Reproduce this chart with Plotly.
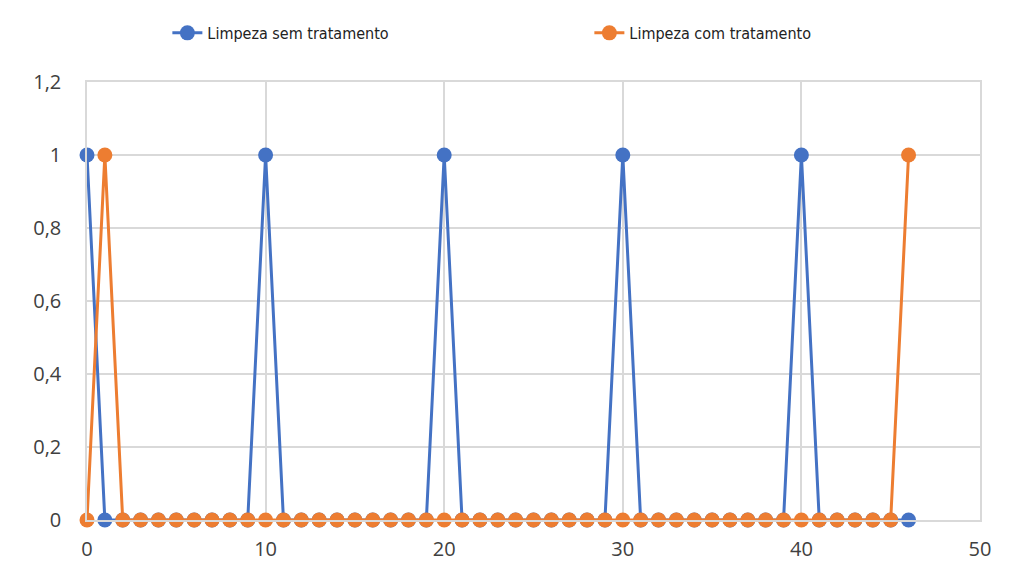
import plotly.graph_objects as go

x_vals = list(range(0, 47))
sem_tratamento = [1, 0, 0, 0, 0, 0, 0, 0, 0, 0,
                  1, 0, 0, 0, 0, 0, 0, 0, 0, 0,
                  1, 0, 0, 0, 0, 0, 0, 0, 0, 0,
                  1, 0, 0, 0, 0, 0, 0, 0, 0, 0,
                  1, 0, 0, 0, 0, 0, 0]
com_tratamento = [0, 1, 0, 0, 0, 0, 0, 0, 0, 0,
                  0, 0, 0, 0, 0, 0, 0, 0, 0, 0,
                  0, 0, 0, 0, 0, 0, 0, 0, 0, 0,
                  0, 0, 0, 0, 0, 0, 0, 0, 0, 0,
                  0, 0, 0, 0, 0, 0, 1]

x_ticks = [0, 10, 20, 30, 40, 50]
y_ticks = [0, 0.2, 0.4, 0.6, 0.8, 1, 1.2]
y_tick_text = ["0", "0,2", "0,4", "0,6", "0,8", "1", "1,2"]

fig = go.Figure()
fig.add_trace(go.Scatter(x=x_vals, y=sem_tratamento, mode="lines+markers",
                         name="Limpeza sem tratamento", cliponaxis=False,
                         line=dict(color="#4472C4", width=3),
                         marker=dict(size=15, color="#4472C4")))
fig.add_trace(go.Scatter(x=x_vals, y=com_tratamento, mode="lines+markers",
                         name="Limpeza com tratamento", cliponaxis=False,
                         line=dict(color="#ED7D31", width=3),
                         marker=dict(size=15, color="#ED7D31")))

fig.update_layout(
    width=1016, height=580,
    margin=dict(l=79, r=44, t=74, b=68, autoexpand=False),
    paper_bgcolor="white", plot_bgcolor="white",
    legend=dict(orientation="h", x=0.09, xanchor="left", xref="paper",
                y=1.112, yref="paper", yanchor="middle",
                font=dict(family="DejaVu Sans Condensed", size=16, color="#222"),
                entrywidth=377, entrywidthmode="pixels"),
    xaxis=dict(range=[0, 50], tickvals=x_ticks, showgrid=True, gridcolor="#D9D9D9",
               gridwidth=1.5, zeroline=False, showline=True, linecolor="#D9D9D9",
               linewidth=1.5, mirror=True, ticks="", automargin=False,
               ticklabelstandoff=10,
               tickfont=dict(family="Open Sans", size=20, color="#404040")),
    yaxis=dict(range=[0, 1.2], tickvals=y_ticks, ticktext=y_tick_text, showgrid=True,
               gridcolor="#D9D9D9", gridwidth=1.5, zeroline=False, showline=True,
               linecolor="#D9D9D9", linewidth=1.5, mirror=True, ticks="",
               automargin=False, ticklabelstandoff=20,
               tickfont=dict(family="Open Sans", size=20, color="#404040")),
)

fig.write_html("out.html")
